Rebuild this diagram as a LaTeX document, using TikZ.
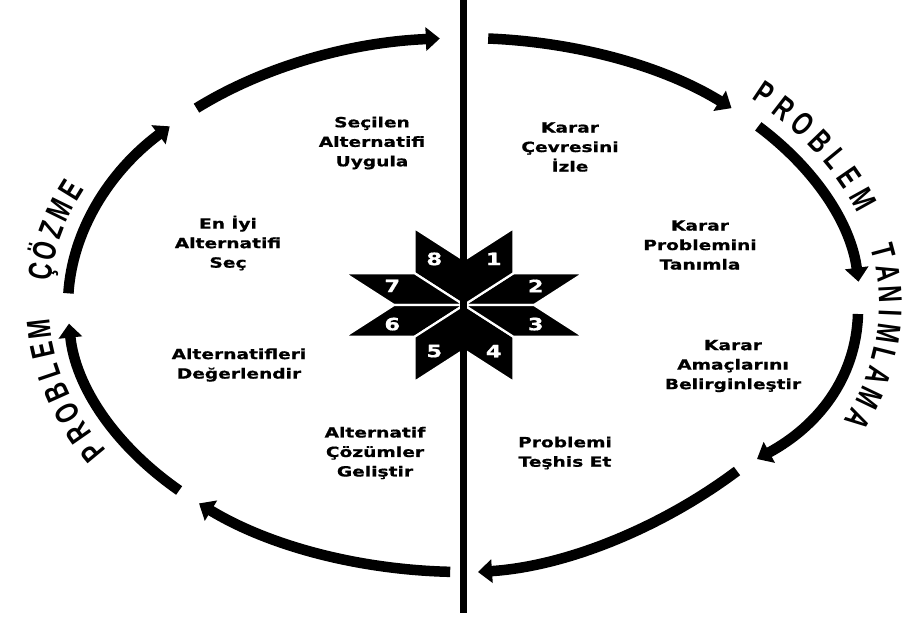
\documentclass[tikz,border=0pt]{standalone}
\usepackage{fontspec}
\usetikzlibrary{arrows.meta}
\newfontfamily\lblfont[FakeStretch=1.33,FakeBold=0.8]{DejaVu Sans}
\newfontfamily\curfont[FakeStretch=0.7]{Liberation Sans}
\begin{document}
\begin{tikzpicture}[x=1pt,y=-1pt,
  flow/.style={line width=10.5pt, -{Triangle[width=23pt,length=14pt]}},
  lbl/.style={font=\lblfont\bfseries\fontsize{14}{19.5}\selectfont, align=center, inner sep=0pt},
  num/.style={font=\lblfont\bfseries\fontsize{17}{17}\selectfont, text=white, inner sep=0pt},
  cur/.style={font=\curfont\bfseries\fontsize{33}{33}\selectfont, inner sep=0pt, anchor=base},
  piece/.style={fill=black, draw=white, line width=2.2pt, line join=miter}
]
\useasboundingbox (0,0) rectangle (918,619);
\fill[white] (0,0) rectangle (918,619);

% cycle arcs on an ellipse centred at (464,305)
\foreach \n/\ta/\tb in {1/-86.5/-47.5, 2/-42/-5, 5/92/132, 6/136/176, 7/182.5/222, 8/227.5/266.5} {
  \coordinate (arc\n) at ({464+396*cos(\ta)},{305+267*sin(\ta)});
  \draw[flow] (arc\n) arc[start angle=\ta, end angle=\tb, x radius=396, y radius=267];
}
\coordinate (arc3) at (858,314);
\coordinate (arc3e) at (757,459);
\coordinate (arc4) at (737,471);
\coordinate (arc4e) at (478,572);
\draw[flow] (arc3) .. controls (856,378) and (818,426) .. (arc3e);
\draw[flow] (arc4) .. controls (665,525) and (570,566) .. (arc4e);

% star
\foreach \k/\lab in {0/2,1/1,2/8,3/7,4/6,5/5,6/4,7/3} {
  \pgfmathsetmacro\ax{70*cos(\k*45)}
  \pgfmathsetmacro\ay{-45*sin(\k*45)}
  \pgfmathsetmacro\bx{70*cos(\k*45+45)}
  \pgfmathsetmacro\by{-45*sin(\k*45+45)}
  \path[piece] (464,305) -- ({464+\ax},{305+\ay}) -- ({464+\ax+\bx},{305+\ay+\by}) -- ({464+\bx},{305+\by}) -- cycle;
  \node[num] (s\lab) at ({464+0.6*(\ax+\bx)},{305+0.6*(\ay+\by)}) {\lab};
}

% central vertical line
\coordinate (vt) at (463,0);
\coordinate (vb) at (463,613);
\draw[line width=7pt] (vt) -- (vb);

% step labels
\node[lbl] (t1) at (570,147) {Karar\\Çevresini\\İzle};
\node[lbl] (t2) at (700,245) {Karar\\Problemini\\Tanımla};
\node[lbl] (t3) at (733,366) {Karar\\Amaçlarını\\Belirginleştir};
\node[lbl] (t4) at (565,453) {Problemi\\Teşhis Et};
\node[lbl] (t5) at (375,453) {Alternatif\\Çözümler\\Geliştir};
\node[lbl] (t6) at (239,365) {Alternatifleri\\Değerlendir};
\node[lbl] (t7) at (228,243) {En İyi\\Alternatifi\\Seç};
\node[lbl] (t8) at (372,143) {Seçilen\\Alternatifi\\Uygula};

% curved titles
\foreach \c/\t in {P/-45, R/-41, O/-37, B/-33, L/-29, E/-25, M/-20.5,
                   T/-10.2, A/-6.1, N/-2.0, I/1.6, M/5.4, L/9.6, A/13.6, M/17.9, A/22.3,
                   P/150.8, R/154.9, O/159, B/163.1, L/167.2, E/171.3, M/175.5,
                   Ç/186.4, Ö/190.4, Z/194.4, M/198.4, E/202.5} {
  \node[cur, rotate={atan2(-267*cos(\t), -396*sin(\t))}] at ({464+415*cos(\t)},{305+286*sin(\t)}) {\c};
}
\end{tikzpicture}
\end{document}
